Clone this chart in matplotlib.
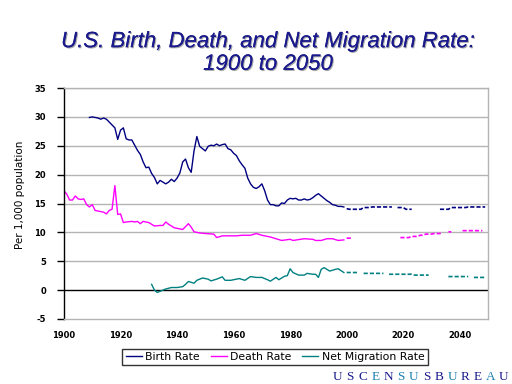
import matplotlib
matplotlib.use('Agg')
import matplotlib.pyplot as plt
import matplotlib.patheffects as pe
from matplotlib.lines import Line2D

nan = float('nan')

# ---------------- data ----------------
birth_years = list(range(1909, 2000))
birth_rate = [29.9, 30.0, 29.9, 29.8, 29.6, 29.8, 29.6, 29.1, 28.6, 28.1,
              26.1, 27.7, 28.1, 26.2, 26.0, 26.0, 25.1, 24.2, 23.5, 22.2,
              21.2, 21.3, 20.2, 19.5, 18.4, 19.0, 18.7, 18.4, 18.7, 19.2,
              18.8, 19.4, 20.3, 22.2, 22.7, 21.2, 20.4, 24.1, 26.6, 24.9,
              24.5, 24.1, 24.9, 25.1, 25.0, 25.3, 25.0, 25.2, 25.3, 24.5,
              24.3, 23.7, 23.3, 22.4, 21.7, 21.1, 19.4, 18.4, 17.8, 17.6,
              17.9, 18.4, 17.2, 15.6, 14.8, 14.8, 14.6, 14.6, 15.1, 15.0,
              15.6, 15.9, 15.8, 15.9, 15.6, 15.6, 15.8, 15.6, 15.7, 16.0,
              16.4, 16.7, 16.3, 15.9, 15.5, 15.2, 14.8, 14.7, 14.5, 14.5,
              14.4]

death_years = [1900, 1901, 1902, 1903, 1904, 1905, 1906, 1907, 1908, 1909,
               1910, 1911, 1912, 1913, 1914, 1915, 1916, 1917, 1918, 1919,
               1920, 1921, 1922, 1924, 1925, 1926, 1927, 1928, 1930, 1932,
               1934, 1935, 1936, 1937, 1939, 1942, 1944, 1945, 1946, 1948,
               1950, 1953, 1954, 1956, 1961, 1963, 1966, 1968, 1970, 1973,
               1975, 1977, 1980, 1981, 1985, 1988, 1989, 1991, 1993, 1995,
               1997, 1999]
death_rate = [17.2, 16.6, 15.6, 15.6, 16.3, 15.8, 15.7, 15.8, 14.8, 14.4,
              14.8, 13.8, 13.7, 13.6, 13.5, 13.2, 13.8, 14.0, 18.1, 13.1,
              13.2, 11.7, 11.8, 11.9, 11.8, 11.9, 11.5, 11.9, 11.7, 11.1,
              11.2, 11.2, 11.8, 11.4, 10.8, 10.5, 11.5, 10.9, 10.1, 9.9,
              9.8, 9.7, 9.1, 9.4, 9.4, 9.5, 9.5, 9.8, 9.5, 9.2,
              8.9, 8.6, 8.8, 8.6, 8.9, 8.8, 8.6, 8.6, 8.9, 8.9,
              8.6, 8.7]

net_years = [1931, 1932, 1933, 1934, 1935, 1936, 1938, 1940, 1942, 1943,
             1944, 1946, 1947, 1949, 1951, 1952, 1954, 1956, 1957, 1959,
             1962, 1964, 1966, 1968, 1970, 1972, 1973, 1975, 1976, 1978,
             1979, 1980, 1981, 1983, 1985, 1986, 1988, 1989, 1990, 1991,
             1992, 1994, 1996, 1997, 1999]
net_rate = [1.0, 0.0, -0.4, -0.2, 0.0, 0.2, 0.45, 0.45, 0.6, 1.0,
            1.5, 1.2, 1.7, 2.1, 1.9, 1.6, 1.9, 2.3, 1.7, 1.7,
            2.0, 1.7, 2.35, 2.2, 2.2, 1.8, 1.55, 2.2, 1.8, 2.4,
            2.5, 3.7, 3.05, 2.6, 2.6, 2.9, 2.75, 2.75, 2.2, 3.6,
            3.9, 3.3, 3.6, 3.7, 3.05]

proj_years = list(range(2000, 2050))
birth_proj = [14.1, 14.0, 14.0, 14.0, 14.0, 14.0, 14.3, 14.3, 14.3, 14.4,
              14.4, 14.4, 14.4, 14.4, 14.4, 14.4, 14.4, nan, 14.3, 14.3,
              14.3, 14.0, 14.0, 14.0, nan, nan, nan, nan, nan, nan,
              nan, nan, nan, 14.0, 14.0, 14.0, 14.0, 14.3, 14.3, 14.3,
              14.3, 14.3, 14.3, 14.4, 14.4, 14.4, 14.4, 14.4, 14.4, 14.4]
death_proj = [9.0, 9.0, 9.0, nan, nan, nan, nan, nan, nan, nan,
              nan, nan, nan, nan, nan, nan, nan, nan, nan, 9.1,
              9.1, 9.1, 9.1, 9.3, 9.3, 9.3, 9.5, 9.5, 9.7, 9.7,
              9.7, 9.8, 9.8, 9.8, 9.9, nan, 10.1, 10.1, nan, nan,
              nan, 10.3, 10.3, 10.3, 10.3, 10.3, 10.3, 10.3, 10.3, nan]
net_proj = [3.05, 3.05, 3.05, 3.05, 3.05, nan, 2.9, 2.9, 2.9, 2.9,
            2.9, 2.9, 2.9, 2.9, nan, 2.75, 2.75, 2.75, 2.75, 2.75,
            2.75, 2.75, 2.75, 2.75, 2.6, 2.6, 2.6, 2.6, 2.6, 2.6,
            nan, nan, nan, nan, nan, nan, 2.35, 2.35, 2.35, 2.35,
            2.35, 2.35, 2.35, 2.35, nan, 2.2, 2.2, 2.2, 2.2, 2.2]

series_names = ['Birth Rate', 'Death Rate', 'Net Migration Rate']
x_ticks = [1900, 1920, 1940, 1960, 1980, 2000, 2020, 2040]
y_ticks = [-5, 0, 5, 10, 15, 20, 25, 30, 35]

title = 'U.S. Birth, Death, and Net Migration Rate:\n1900 to 2050'
y_label = 'Per 1,000 population'
logo_letters = list('USCENSUSBUREAU')

# ---------------- style ----------------
C_BIRTH = '#000080'
C_DEATH = '#FF00FF'
C_NET = '#008080'
GRID = '#B4B4B4'
NAVY = '#1A1A8C'

fig = plt.figure(figsize=(5.12, 3.84), dpi=100)
ax = fig.add_axes([64 / 512, 1 - 319 / 384, 424 / 512, 231 / 384])

lw = 1.0
dash = (0, (2.5, 1.2))
ax.plot(birth_years, birth_rate, color=C_BIRTH, lw=lw)
ax.plot(death_years, death_rate, color=C_DEATH, lw=lw)
ax.plot(net_years, net_rate, color=C_NET, lw=lw)
ax.plot(proj_years, birth_proj, color=C_BIRTH, lw=1.2, linestyle=dash)
ax.plot(proj_years, death_proj, color=C_DEATH, lw=1.2, linestyle=dash)
ax.plot(proj_years, net_proj, color=C_NET, lw=1.2, linestyle=dash)

ax.set_xlim(1900, 2050)
ax.set_ylim(-5, 35)

for yv in y_ticks:
    if yv > -5 and yv != 0:
        ax.axhline(yv, color=GRID, lw=1.0, zorder=0)
ax.axhline(0, color='black', lw=1.0, zorder=1)

for s in ['top', 'right', 'bottom']:
    ax.spines[s].set_color(GRID)
    ax.spines[s].set_linewidth(1.0)
ax.spines['left'].set_color('black')
ax.spines['left'].set_linewidth(1.0)

ax.set_yticks(y_ticks)
ax.set_yticklabels([str(v) for v in y_ticks], fontsize=6, fontweight='bold')
ax.tick_params(axis='y', direction='out', length=5, width=1, pad=8, colors='black')
ax.set_xticks(x_ticks)
ax.set_xticklabels([str(v) for v in x_ticks], fontsize=6, fontweight='bold')
ax.tick_params(axis='x', length=0, pad=9)

fig.text(20 / 512, 1 - 195 / 384, y_label, rotation=90, ha='center', va='center',
         fontsize=7.5, family='DejaVu Sans')

fig.text(268 / 512, 1 - 53 / 384, title, ha='center', va='center', fontsize=16,
         style='italic', family='Liberation Sans', color=NAVY, linespacing=1.1,
         path_effects=[pe.withSimplePatchShadow(offset=(0.8, -0.8),
                                                shadow_rgbFace='#A8A8A8', alpha=1.0),
                       pe.Normal()])

handles = [Line2D([], [], color=c, lw=1.0) for c in (C_BIRTH, C_DEATH, C_NET)]
leg = fig.legend(handles, series_names, loc='center',
                 bbox_to_anchor=(275 / 512, 1 - 357 / 384), ncol=3, fontsize=7.8,
                 frameon=True, fancybox=False, edgecolor='black', handlelength=1.5,
                 handletextpad=0.3, columnspacing=1.0, borderpad=0.3)
leg.get_frame().set_linewidth(1.0)

logo_colors = [NAVY, NAVY, NAVY, '#1C7FB0', NAVY, '#1C7FB0', '#1C7FB0', NAVY,
               NAVY, '#1C7FB0', NAVY, NAVY, '#1C7FB0', NAVY]
x0, step = 337, 12.8
for i, (ch, col) in enumerate(zip(logo_letters, logo_colors)):
    fig.text((x0 + i * step) / 512, 1 - 377 / 384, ch, ha='center', va='center',
             fontsize=9.5, family='Liberation Serif', color=col)

fig.savefig('out.png', dpi=100)
